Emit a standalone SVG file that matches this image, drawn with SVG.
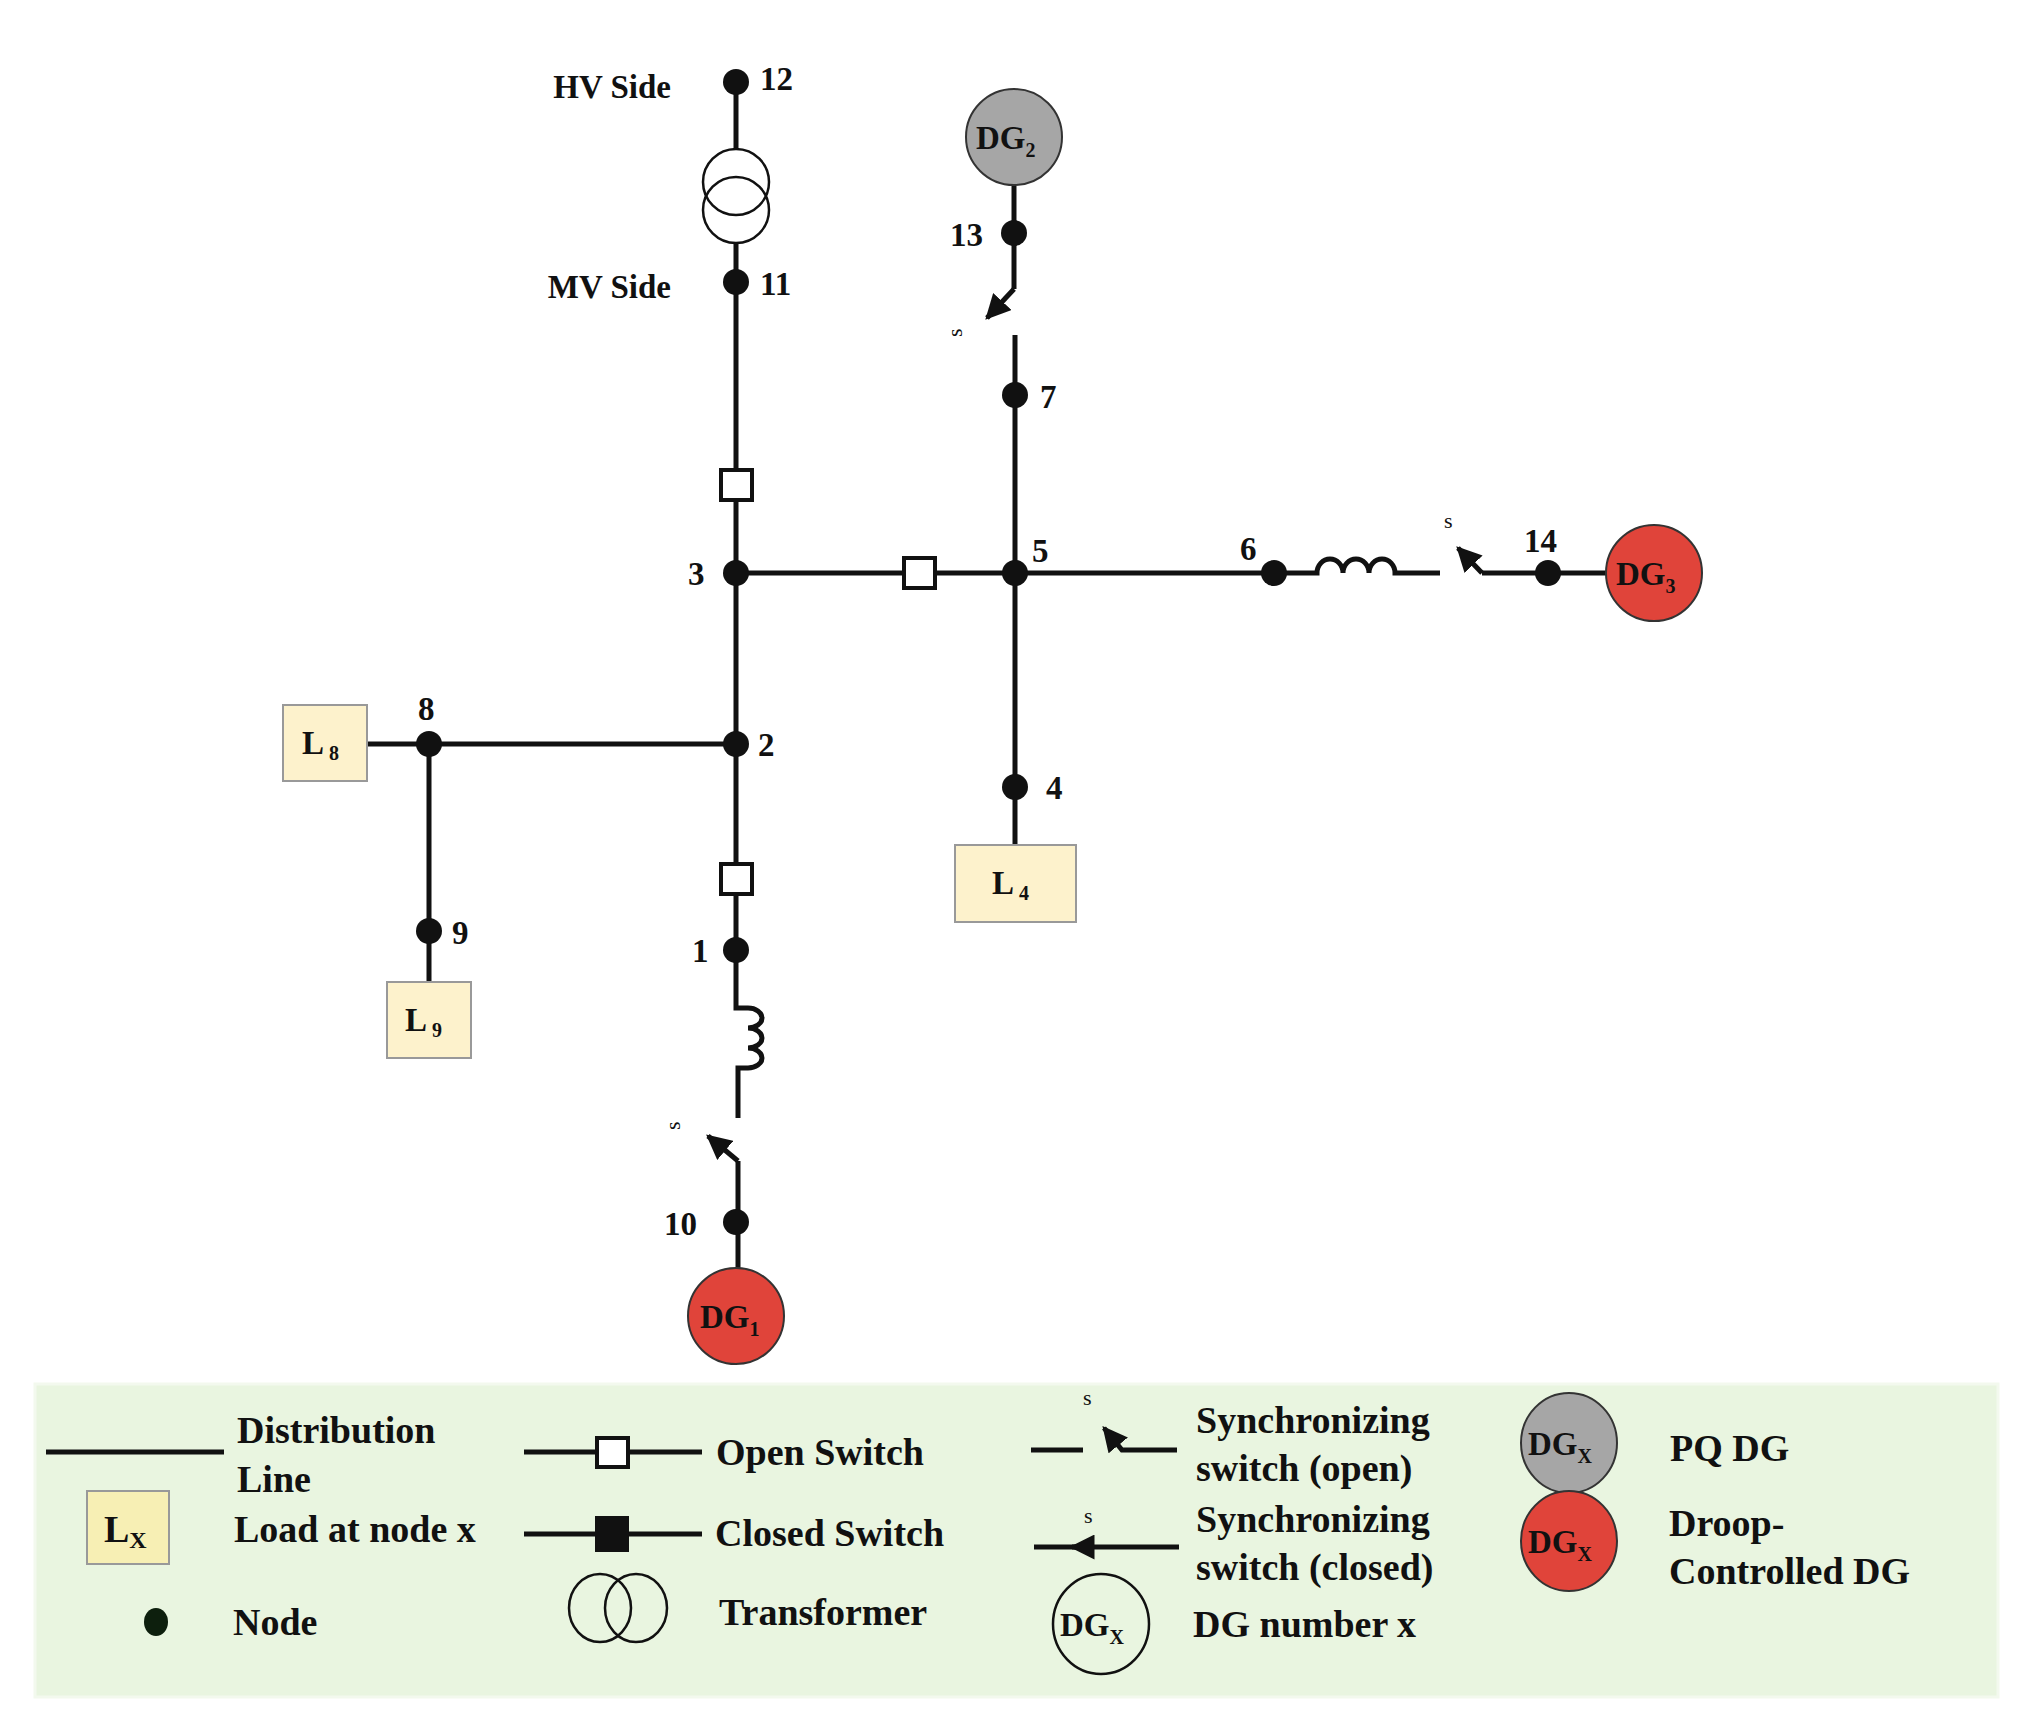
<svg xmlns="http://www.w3.org/2000/svg" width="2029" height="1724" viewBox="0 0 2029 1724">
<style>
text{font-family:"Liberation Serif","Times New Roman",serif;font-weight:bold;fill:#111}
.lbl{font-size:33px}
.lg{font-size:38px}
.w{stroke:#111;stroke-width:5;fill:none}
.dot{fill:#111}
.osw{fill:#fff;stroke:#111;stroke-width:4}
.load{fill:#fdf2cc;stroke:#999;stroke-width:2}
.s{font-size:22px;font-weight:normal}
</style>
<defs>
<marker id="ah" viewBox="0 0 10 10" refX="9" refY="5" markerWidth="5" markerHeight="5" orient="auto-start-reverse" markerUnits="strokeWidth"><path d="M0,0 L10,5 L0,10 z" fill="#111"/></marker>
</defs>
<rect width="2029" height="1724" fill="#fff"/>
<g id="connectors" class="w">
<line x1="736" y1="82" x2="736" y2="148"/>
<line x1="736" y1="242" x2="736" y2="744"/>
<line x1="736" y1="573" x2="1015" y2="573"/>
<line x1="1015" y1="335" x2="1015" y2="845"/>
<line x1="1015" y1="573" x2="1274" y2="573"/>
<path d="M1274,573 H1317 a13,14 0 0 1 26,0 a13,14 0 0 1 26,0 a13,14 0 0 1 26,0 H1440"/>
<line x1="1482" y1="573" x2="1606" y2="573"/>
<line x1="1482" y1="573" x2="1458" y2="548" marker-end="url(#ah)"/>
<line x1="367" y1="744" x2="736" y2="744"/>
<line x1="429" y1="744" x2="429" y2="982"/>
<line x1="736" y1="744" x2="736" y2="1001"/>
<path d="M736,1001 V1008 H748 a14,10 0 0 1 0,20 a14,10 0 0 1 0,20 a14,10 0 0 1 0,20 H738 V1118"/>
<line x1="738" y1="1161" x2="738" y2="1270"/>
<line x1="738" y1="1161" x2="708" y2="1136" marker-end="url(#ah)"/>
<line x1="1014" y1="185" x2="1014" y2="289"/>
<line x1="1014" y1="289" x2="987" y2="318" marker-end="url(#ah)"/>
</g>
<g id="transformer"><circle cx="736" cy="182" r="33" fill="none" stroke="#111" stroke-width="2.5"/><circle cx="736" cy="210" r="33" fill="none" stroke="#111" stroke-width="2.5"/></g>
<g id="sw1"><rect x="721" y="470" width="31" height="30" class="osw"/></g>
<g id="sw2"><rect x="904" y="558" width="31" height="30" class="osw"/></g>
<g id="sw3"><rect x="721" y="864" width="31" height="30" class="osw"/></g>
<g id="n12"><circle cx="736" cy="82" r="13" class="dot"/><text x="760" y="90" class="lbl">12</text><text x="671" y="98" class="lbl" text-anchor="end">HV Side</text></g>
<g id="n11"><circle cx="736" cy="282" r="13" class="dot"/><text x="760" y="295" class="lbl">11</text><text x="671" y="298" class="lbl" text-anchor="end">MV Side</text></g>
<g id="n3"><circle cx="736" cy="573" r="13" class="dot"/><text x="688" y="585" class="lbl">3</text></g>
<g id="n5"><circle cx="1015" cy="573" r="13" class="dot"/><text x="1032" y="562" class="lbl">5</text></g>
<g id="n6"><circle cx="1274" cy="573" r="13" class="dot"/><text x="1240" y="560" class="lbl">6</text></g>
<g id="n14"><circle cx="1548" cy="573" r="13" class="dot"/><text x="1524" y="552" class="lbl">14</text><text x="1444" y="528" class="s">s</text></g>
<g id="dg3"><circle cx="1654" cy="573" r="48" fill="#e0443a" stroke="#333" stroke-width="2"/><text x="1616" y="585" class="lbl">DG<tspan font-size="20" dy="8">3</tspan></text></g>
<g id="n7"><circle cx="1015" cy="395" r="13" class="dot"/><text x="1040" y="408" class="lbl">7</text></g>
<g id="n13"><circle cx="1014" cy="233" r="13" class="dot"/><text x="950" y="246" class="lbl">13</text><text x="955" y="330" class="s" transform="rotate(-90 962 330)">s</text></g>
<g id="dg2"><circle cx="1014" cy="137" r="48" fill="#a6a6a6" stroke="#333" stroke-width="2"/><text x="976" y="149" class="lbl">DG<tspan font-size="20" dy="8">2</tspan></text></g>
<g id="n4"><circle cx="1015" cy="787" r="13" class="dot"/><text x="1046" y="799" class="lbl">4</text></g>
<g id="L4"><rect x="955" y="845" width="121" height="77" class="load"/><text x="992" y="894" class="lbl">L<tspan font-size="20" dy="6"> 4</tspan></text></g>
<g id="n2"><circle cx="736" cy="744" r="13" class="dot"/><text x="758" y="756" class="lbl">2</text></g>
<g id="n8"><circle cx="429" cy="744" r="13" class="dot"/><text x="418" y="720" class="lbl">8</text></g>
<g id="L8"><rect x="283" y="705" width="84" height="76" class="load"/><text x="302" y="754" class="lbl">L<tspan font-size="20" dy="6"> 8</tspan></text></g>
<g id="n9"><circle cx="429" cy="931" r="13" class="dot"/><text x="452" y="944" class="lbl">9</text></g>
<g id="L9"><rect x="387" y="982" width="84" height="76" class="load"/><text x="405" y="1031" class="lbl">L<tspan font-size="20" dy="6"> 9</tspan></text></g>
<g id="n1"><circle cx="736" cy="950" r="13" class="dot"/><text x="692" y="962" class="lbl">1</text></g>
<g id="n10"><circle cx="736" cy="1222" r="13" class="dot"/><text x="664" y="1235" class="lbl">10</text><text x="668" y="1130" class="s" transform="rotate(-90 674 1124)">s</text></g>
<g id="dg1"><circle cx="736" cy="1316" r="48" fill="#e0443a" stroke="#333" stroke-width="2"/><text x="700" y="1328" class="lbl">DG<tspan font-size="20" dy="8">1</tspan></text></g>
<g id="legend">
<rect x="35" y="1384" width="1963" height="313" fill="#e9f5e0" stroke="#f3f9ee" stroke-width="3"/>
<line x1="46" y1="1452" x2="224" y2="1452" class="w"/>
<text x="237" y="1443" class="lg">Distribution</text><text x="237" y="1492" class="lg">Line</text>
<rect x="87" y="1491" width="82" height="73" fill="#f7efb4" stroke="#999" stroke-width="2"/>
<text x="104" y="1542" class="lg">L<tspan font-size="24" dy="6">X</tspan></text>
<text x="234" y="1542" class="lg">Load at node x</text>
<ellipse cx="156" cy="1622" rx="12" ry="14" fill="#0d1f0d"/>
<text x="233" y="1635" class="lg">Node</text>
<line x1="524" y1="1452" x2="702" y2="1452" class="w"/><rect x="597" y="1438" width="31" height="29" class="osw"/>
<text x="716" y="1465" class="lg">Open Switch</text>
<line x1="524" y1="1534" x2="702" y2="1534" class="w"/><rect x="595" y="1516" width="34" height="36" fill="#111"/>
<text x="715" y="1546" class="lg">Closed Switch</text>
<ellipse cx="600" cy="1608" rx="31" ry="34" fill="none" stroke="#111" stroke-width="2.5"/><ellipse cx="636" cy="1608" rx="31" ry="34" fill="none" stroke="#111" stroke-width="2.5"/>
<text x="719" y="1625" class="lg">Transformer</text>
<path d="M1031,1450 H1083" class="w"/><path d="M1177,1450 H1122 L1104,1428" class="w" marker-end="url(#ah)"/>
<text x="1083" y="1405" class="s">s</text>
<text x="1196" y="1433" class="lg">Synchronizing</text><text x="1196" y="1481" class="lg">switch (open)</text>
<path d="M1034,1547 H1179" class="w"/><path d="M1090,1547 H1072" class="w" marker-end="url(#ah)"/>
<text x="1084" y="1523" class="s">s</text>
<text x="1196" y="1532" class="lg">Synchronizing</text><text x="1196" y="1580" class="lg">switch (closed)</text>
<ellipse cx="1101" cy="1624" rx="48" ry="50" fill="none" stroke="#111" stroke-width="2.5"/>
<text x="1060" y="1636" class="lbl" font-weight="normal">DG<tspan font-size="20" dy="8">X</tspan></text>
<text x="1193" y="1637" class="lg">DG number x</text>
<ellipse cx="1569" cy="1443" rx="48" ry="50" fill="#a6a6a6" stroke="#333" stroke-width="2"/>
<text x="1528" y="1455" class="lbl" font-weight="normal">DG<tspan font-size="20" dy="8">X</tspan></text>
<text x="1670" y="1461" class="lg">PQ DG</text>
<ellipse cx="1569" cy="1541" rx="48" ry="50" fill="#e0443a" stroke="#333" stroke-width="2"/>
<text x="1528" y="1553" class="lbl" font-weight="normal">DG<tspan font-size="20" dy="8">X</tspan></text>
<text x="1669" y="1536" class="lg">Droop-</text><text x="1669" y="1584" class="lg">Controlled DG</text>
</g>
</svg>
